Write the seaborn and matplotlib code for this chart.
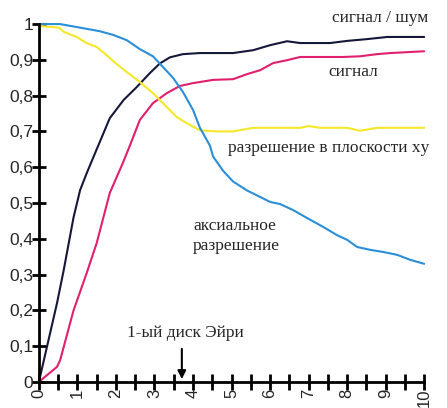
import matplotlib
matplotlib.use("Agg")
import matplotlib.pyplot as plt
from matplotlib.ticker import MultipleLocator, FuncFormatter
import numpy as np
import pandas as pd
import seaborn as sns

# === data ===
SNR_X = [0, 0.47, 0.64, 0.9, 1.07, 1.24, 1.5, 1.84, 2.2, 2.54, 2.88, 3.14, 3.4, 3.74,
         4.18, 5.04, 5.56, 6.0, 6.44, 6.78, 7.04, 7.56, 8.0, 8.52, 9.04, 10]
SNR_Y = [0, 0.22, 0.31, 0.46, 0.536, 0.583, 0.65, 0.737, 0.788, 0.824, 0.863, 0.89, 0.907, 0.916,
         0.919, 0.919, 0.927, 0.941, 0.952, 0.947, 0.947, 0.947, 0.953, 0.958, 0.964, 0.964]

SIG_X = [0, 0.47, 0.55, 0.9, 1.24, 1.5, 1.84, 2.18, 2.36, 2.62, 2.96, 3.32, 3.66, 4.0,
         4.52, 5.04, 5.4, 5.74, 6.08, 6.44, 6.78, 7.22, 7.9, 8.34, 8.78, 9.12, 10]
SIG_Y = [0, 0.042, 0.06, 0.2, 0.304, 0.388, 0.528, 0.612, 0.66, 0.732, 0.779, 0.807, 0.827, 0.835,
         0.844, 0.846, 0.86, 0.871, 0.891, 0.899, 0.908, 0.908, 0.908, 0.91, 0.916, 0.919, 0.924]

XY_X = [0, 0.52, 0.65, 0.98, 1.24, 1.5, 1.76, 2.02, 2.28, 2.62, 2.96, 3.32, 3.58, 3.84,
        4.18, 4.6, 5.04, 5.56, 6.08, 6.78, 7.0, 7.3, 8.0, 8.34, 8.78, 10]
XY_Y = [0.995, 0.99, 0.978, 0.964, 0.947, 0.936, 0.913, 0.888, 0.866, 0.838, 0.807, 0.768, 0.74, 0.723,
        0.703, 0.70, 0.70, 0.71, 0.71, 0.71, 0.715, 0.71, 0.71, 0.702, 0.71, 0.71]

AX_X = [0, 0.55, 1.07, 1.58, 1.92, 2.28, 2.62, 2.96, 3.22, 3.48, 3.74, 4.0, 4.18, 4.44,
        4.52, 4.78, 5.04, 5.4, 5.74, 6.0, 6.26, 6.6, 6.96, 7.38, 7.74, 8.0, 8.26, 8.6,
        8.94, 9.3, 9.64, 10]
AX_Y = [1.0, 1.0, 0.99, 0.98, 0.97, 0.955, 0.93, 0.91, 0.88, 0.85, 0.81, 0.76, 0.71, 0.66,
        0.63, 0.59, 0.56, 0.535, 0.517, 0.503, 0.497, 0.48, 0.458, 0.433, 0.41, 0.397, 0.377, 0.369,
        0.363, 0.355, 0.341, 0.33]

SERIES = [
    ("snr", SNR_X, SNR_Y, "#15183a"),
    ("signal", SIG_X, SIG_Y, "#e0206e"),
    ("xy", XY_X, XY_Y, "#f5e82a"),
    ("axial", AX_X, AX_Y, "#2a8fd8"),
]

SERIF = ["Liberation Serif", "DejaVu Serif"]

sns.set_style("ticks")
plt.rcParams['font.family'] = ["Liberation Sans", "DejaVu Sans"]

fig = plt.figure(figsize=(4.47, 4.08), dpi=100)
ax = fig.add_axes([0.087, 0.064, 0.862, 0.877])

for name, xs, ys, col in SERIES:
    df = pd.DataFrame({"x": xs, "y": ys})
    sns.lineplot(data=df, x="x", y="y", ax=ax, color=col, linewidth=1.5,
                 estimator=None, sort=False, clip_on=False)

ax.set_xlim(0, 10)
ax.set_ylim(0, 1)
ax.set_xlabel("")
ax.set_ylabel("")

for s in ["top", "right"]:
    ax.spines[s].set_visible(False)
for s in ["left", "bottom"]:
    ax.spines[s].set_color("black")
    ax.spines[s].set_linewidth(2)

ax.xaxis.set_major_locator(MultipleLocator(1))
ax.xaxis.set_minor_locator(MultipleLocator(0.5))
ax.yaxis.set_major_locator(MultipleLocator(0.1))
ax.yaxis.set_major_formatter(FuncFormatter(lambda v, _: f"{v:.1f}".replace(".", ",") if abs(v - round(v)) > 1e-9 else f"{int(round(v))}"))
ax.xaxis.set_major_formatter(FuncFormatter(lambda v, _: f"{int(round(v))}"))

ax.xaxis.set_tick_params(which="both", direction="inout", length=12, width=2,
                         color="black", bottom=True, labelsize=12, pad=-1, labelrotation=90)
ax.yaxis.set_tick_params(which="major", direction="inout", length=10, width=2,
                         color="black", left=True, labelsize=12.5, pad=-1)
ax.yaxis.set_tick_params(which="minor", left=False)

ax.text(8.86, 1.017, "сигнал / шум", family=SERIF, fontsize=12.5, ha="center", va="center")
ax.text(8.15, 0.866, "сигнал", family=SERIF, fontsize=12.5, ha="center", va="center")
ax.text(4.9, 0.654, "разрешение в плоскости xy", family=SERIF, fontsize=12.5, ha="left", va="center", clip_on=False)
ax.text(4.0, 0.408, "аксиальное\nразрешение", family=SERIF, fontsize=12.5, ha="left", va="center", linespacing=1.3)
ax.text(3.79, 0.137, "1-ый диск Эйри", family=SERIF, fontsize=12.5, ha="center", va="center")
ax.annotate("", xy=(3.71, 0.0), xytext=(3.71, 0.1),
            arrowprops=dict(arrowstyle="-|>", color="black", lw=1.5, mutation_scale=12))

fig.savefig("out.png", dpi=100)
